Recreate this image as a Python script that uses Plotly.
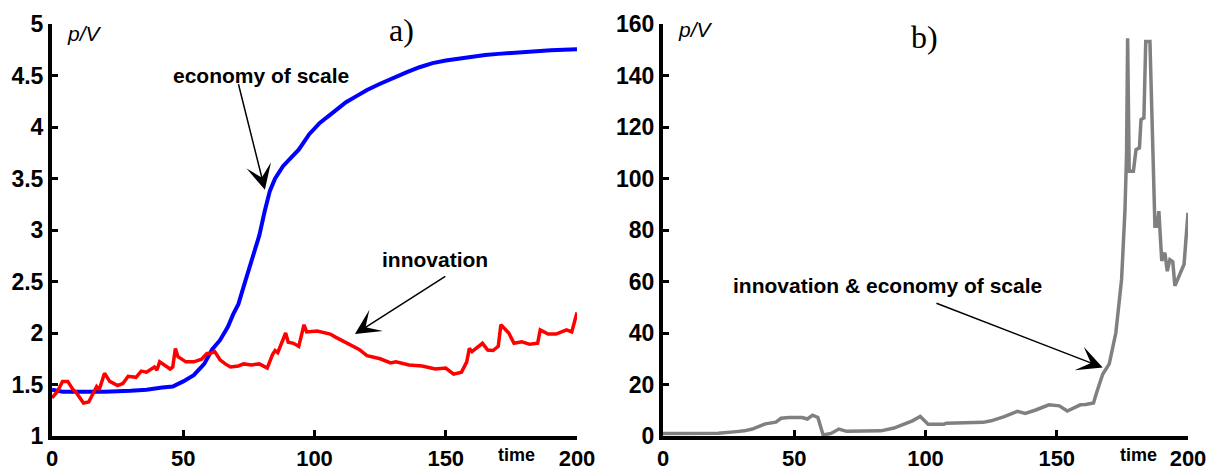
import plotly.graph_objects as go

# Panel a): price/value ratio over time for two scenarios
time_scale = [0, 4, 10, 20, 30, 36, 42, 46, 50, 54, 58, 61, 64, 67, 69, 71, 73, 75, 77, 79,
              81, 83, 85, 88, 91, 94, 98, 102, 107, 112, 116, 120, 125, 130, 135, 140, 145,
              150, 155, 160, 165, 170, 175, 180, 185, 190, 195, 200]
pv_scale = [1.45, 1.43, 1.43, 1.43, 1.44, 1.45, 1.47, 1.48, 1.53, 1.59, 1.70, 1.84, 1.93,
            2.06, 2.18, 2.28, 2.45, 2.62, 2.80, 2.95, 3.18, 3.38, 3.50, 3.62, 3.70, 3.78,
            3.93, 4.04, 4.14, 4.24, 4.30, 4.36, 4.42, 4.48, 4.53, 4.58, 4.62, 4.645, 4.665,
            4.685, 4.70, 4.71, 4.72, 4.73, 4.74, 4.745, 4.75, 4.755]

time_innov = [0, 2, 4, 6, 8, 9, 12, 14, 17, 18, 20, 22, 25, 27, 29, 32, 34, 36, 39, 40, 41,
              42, 45, 46, 47, 48, 51, 54, 57, 59, 60, 62, 64, 66, 68, 71, 73, 76, 79, 82, 84,
              85, 86, 89, 90, 92, 94, 96, 97, 101, 106, 108, 111, 115, 117, 120, 125, 129,
              131, 136, 141, 146, 150, 153, 156, 158, 159, 160, 164, 166, 168, 170, 171, 174,
              176, 179, 182, 185, 186, 189, 192, 196, 198, 200]
pv_innov = [1.37, 1.43, 1.53, 1.53, 1.45, 1.43, 1.32, 1.33, 1.48, 1.45, 1.61, 1.53, 1.49,
            1.51, 1.58, 1.57, 1.63, 1.62, 1.67, 1.64, 1.72, 1.70, 1.65, 1.67, 1.85, 1.77,
            1.72, 1.72, 1.745, 1.80, 1.80, 1.82, 1.74, 1.70, 1.67, 1.68, 1.70, 1.69, 1.70,
            1.66, 1.79, 1.83, 1.81, 2.00, 1.91, 1.90, 1.87, 2.08, 2.01, 2.02, 1.99, 1.96,
            1.92, 1.87, 1.84, 1.78, 1.75, 1.71, 1.72, 1.69, 1.68, 1.65, 1.66, 1.60, 1.62,
            1.72, 1.85, 1.82, 1.90, 1.835, 1.83, 1.87, 2.08, 2.00, 1.90, 1.915, 1.89, 1.90,
            2.03, 1.99, 1.99, 2.03, 2.01, 2.20]

# Panel b): both effects combined
time_both = [0, 21, 28, 31, 34, 37, 39, 43, 45, 48, 53, 55, 57, 59, 61, 64, 67, 70, 83, 88,
             92, 95, 98, 101, 107, 108, 122, 125, 130, 135, 138, 142, 147, 151, 154, 159,
             161, 164, 165.2, 167.5, 170, 172.5, 174.7, 176, 176.6, 177, 177.6, 179.2, 180.2,
             181.5, 182.1, 183.2, 183.9, 185.5, 187.4, 188.3, 188.9, 190, 191.2, 192.1, 193.1,
             194.2, 195, 196.9, 198.5, 200]
pv_both = [1.0, 1.1, 1.7, 2.0, 2.7, 3.8, 4.7, 5.4, 6.9, 7.2, 7.2, 6.6, 8.1, 7.2, 0.4, 1.0,
           2.7, 1.8, 2.0, 3.1, 4.6, 5.9, 7.6, 4.6, 4.6, 5.0, 5.3, 5.9, 7.5, 9.6, 8.8, 10.1,
           12.1, 11.7, 9.7, 12.1, 12.2, 12.8, 16.9, 24, 28, 40, 60.8, 88, 110, 154.5, 102.8,
           102.8, 111.2, 111.9, 122.9, 123.5, 153.2, 153.2, 81.5, 81.5, 87.3, 68, 71.2, 64,
           68.5, 67.7, 58.3, 62.8, 66.7, 86.7]

x_ticks = [0, 50, 100, 150, 200]
y_ticks_a = [1, 1.5, 2, 2.5, 3, 3.5, 4, 4.5, 5]
y_ticks_b = [0, 20, 40, 60, 80, 100, 120, 140, 160]

SANS = "Liberation Sans, Arial, sans-serif"
SERIF = "Liberation Serif, Times New Roman, serif"

fig = go.Figure()
fig.add_trace(go.Scatter(x=time_scale, y=pv_scale, mode="lines",
                         line=dict(color="#0000ff", width=4), xaxis="x", yaxis="y"))
fig.add_trace(go.Scatter(x=time_innov, y=pv_innov, mode="lines",
                         line=dict(color="#ff0000", width=3.5), xaxis="x", yaxis="y"))
fig.add_trace(go.Scatter(x=time_both, y=pv_both, mode="lines",
                         line=dict(color="#808080", width=3.5), xaxis="x2", yaxis="y2"))

W, H = 1224, 475
dom_a = [52 / W, 577 / W]
dom_b = [663 / W, 1188 / W]
dom_y = [(H - 436) / H, (H - 24) / H]

axis_common = dict(
    showline=True, linewidth=4, linecolor="black", mirror=False,
    ticks="inside", ticklen=6, tickwidth=3, tickcolor="black",
    showgrid=False, zeroline=False, automargin=False,
)
y_font = dict(family=SANS, size=23, color="black", weight="bold")
x_font = dict(family=SANS, size=22, color="black", weight="bold")

fig.update_layout(
    template="none",
    width=W, height=H,
    margin=dict(l=0, r=0, t=0, b=0, pad=0),
    paper_bgcolor="white", plot_bgcolor="white",
    showlegend=False,
    xaxis=dict(domain=dom_a, range=[0, 200], tickvals=x_ticks, anchor="y",
               tickfont=x_font, **axis_common),
    yaxis=dict(domain=dom_y, range=[1, 5], tickvals=y_ticks_a,
               ticktext=[f"{v:g}" for v in y_ticks_a], anchor="x",
               tickfont=y_font, **axis_common),
    xaxis2=dict(domain=dom_b, range=[0, 200], tickvals=x_ticks, anchor="y2",
                tickfont=x_font, **axis_common),
    yaxis2=dict(domain=dom_y, range=[0, 160], tickvals=y_ticks_b, anchor="x2",
                tickfont=y_font, **axis_common),
)

label_font = dict(family=SANS, size=21, color="black", weight="bold")
arrow_style = dict(text="", showarrow=True, arrowhead=3, arrowsize=2.8, arrowwidth=1.5,
                   arrowcolor="black", standoff=0)
time_font = dict(family=SANS, size=18, color="black", weight="bold")
time_y = (H - 455) / H

annotations = [
    # panel a
    dict(x=79.6, y=4.50, xref="x", yref="y", text="economy of scale", showarrow=False,
         font=label_font),
    dict(x=81.1, y=3.39, ax=70.9, ay=4.43, xref="x", yref="y", axref="x", ayref="y",
         **arrow_style),
    dict(x=145.9, y=2.71, xref="x", yref="y", text="innovation", showarrow=False,
         font=label_font),
    dict(x=115.4, y=1.99, ax=150.4, ay=2.56, xref="x", yref="y", axref="x", ayref="y",
         **arrow_style),
    dict(x=12.2, y=4.91, xref="x", yref="y", text="<i>p/V</i>", showarrow=False,
         font=dict(family=SANS, size=21, color="black")),
    dict(x=133.3, y=4.94, xref="x", yref="y", text="a)", showarrow=False,
         font=dict(family=SERIF, size=32, color="black")),
    dict(x=176.8, y=time_y, xref="x", yref="paper", yanchor="middle", text="time",
         showarrow=False, font=time_font),
    # panel b
    dict(x=85.7, y=58.3, xref="x2", yref="y2", text="innovation &amp; economy of scale",
         showarrow=False, font=label_font),
    dict(x=167.5, y=26.6, ax=103.6, ay=51.8, xref="x2", yref="y2", axref="x2", ayref="y2",
         **arrow_style),
    dict(x=12.2, y=157.7, xref="x2", yref="y2", text="<i>p/V</i>", showarrow=False,
         font=dict(family=SANS, size=21, color="black")),
    dict(x=99.8, y=155, xref="x2", yref="y2", text="b)", showarrow=False,
         font=dict(family=SERIF, size=32, color="black")),
    dict(x=181.3, y=time_y, xref="x2", yref="paper", yanchor="middle", text="time",
         showarrow=False, font=time_font),
]
fig.update_layout(annotations=annotations)

fig.write_html("out.html")
